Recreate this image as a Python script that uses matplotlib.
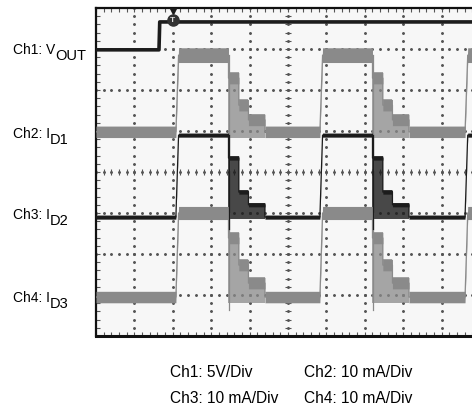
import numpy as np
import matplotlib
matplotlib.use('Agg')
import matplotlib.pyplot as plt
from matplotlib.ticker import MultipleLocator

plt.rcParams['font.family'] = ['Liberation Sans', 'DejaVu Sans']

# scope screen, everything in divisions (10 x 8)
n_xdiv = 10
n_ydiv = 8

# Ch1: VOUT, a single step up
vout_t = [0.0, 1.64, 1.66, 10.5]
vout_y = [6.98, 6.98, 7.66, 7.66]

# LED current pulses (same timing on the three channels)
pulse_rise = [2.08, 5.83, 9.61]
pulse_width = 1.37
rise_time = 0.07
tail_ends = [0.27, 0.52, 0.95]   # end of each tail step after the falling edge

# levels: off, on, tail step 1, 2, 3
id1_lvl = [4.98, 6.85, 6.29, 5.63, 5.27]
id2_lvl = [2.90, 4.90, 4.34, 3.51, 3.20]
id3_lvl = [0.95, 3.00, 2.39, 1.73, 1.29]

# ringing at the falling edge: lowest level reached
id1_spike = 4.05
id2_spike = 2.60
id3_spike = 0.64

ch_names = ['Ch1: V', 'Ch2: I', 'Ch3: I', 'Ch4: I']
ch_subs = ['OUT', 'D1', 'D2', 'D3']
scale_txt = [['Ch1: 5V/Div', 'Ch2: 10 mA/Div'],
             ['Ch3: 10 mA/Div', 'Ch4: 10 mA/Div']]

dark = '#1c1c1c'
grey = '#8a8a8a'
grid_c = '#555555'


def pulse_trace(lvl):
    off, on = lvl[0], lvl[1]
    t, y = [0.0], [off]
    for r in pulse_rise:
        f = r + pulse_width
        t += [r, r + rise_time, f]
        y += [off, on, on]
        start = f
        for end, v in zip(tail_ends, lvl[2:]):
            t += [start, f + end]
            y += [v, v]
            start = f + end
        t += [start]
        y += [off]
    return np.array(t), np.array(y)


def draw_channel(ax, lvl, spike, color, half, half_on, tail_alpha):
    t, y = pulse_trace(lvl)
    off = lvl[0]
    # ringing fills the tail steps down to the baseline
    for r in pulse_rise:
        f = r + pulse_width
        start = f
        for end, v in zip(tail_ends, lvl[2:]):
            ax.fill_between([start, f + end], off - half, v + half,
                            color=color, alpha=tail_alpha, lw=0, zorder=3)
            start = f + end
        ax.plot([f + 0.02, f + 0.02], [lvl[1], spike], color=color, lw=0.9, zorder=4)
    h = np.where(y == lvl[1], half_on, half)
    ax.fill_between(t, y - h, y + h, color=color, lw=0, zorder=4)
    ax.plot(t, y, color=color, lw=0.9, zorder=4)


fig = plt.figure(figsize=(4.72, 4.08), dpi=100)
ax = fig.add_axes([96 / 472, 72 / 408, 384 / 472, 328 / 408])
ax.set_facecolor('#f7f7f7')
ax.set_xlim(0, n_xdiv)
ax.set_ylim(0, n_ydiv)

# graticule
fx = np.arange(0, n_xdiv + 0.001, 0.2)
fy = np.arange(0, n_ydiv + 0.001, 0.2)
for gx in range(1, n_xdiv):
    ax.plot([gx] * len(fy), fy, ls='none', marker='o', ms=1.1, color=grid_c, zorder=1)
for gy in range(1, n_ydiv):
    ax.plot(fx, [gy] * len(fx), ls='none', marker='o', ms=1.1, color=grid_c, zorder=1)
ax.plot([n_xdiv / 2] * len(fy), fy, ls='none', marker='_', ms=5, mew=0.8, color=grid_c, zorder=1)
ax.plot(fx, [n_ydiv / 2] * len(fx), ls='none', marker='|', ms=5, mew=0.8, color=grid_c, zorder=1)

ax.xaxis.set_major_locator(MultipleLocator(1))
ax.yaxis.set_major_locator(MultipleLocator(1))
ax.xaxis.set_minor_locator(MultipleLocator(0.2))
ax.yaxis.set_minor_locator(MultipleLocator(0.2))
ax.tick_params(which='both', direction='in', top=True, right=True, length=3,
               width=0.8, color=grid_c, labelbottom=False, labelleft=False)
for s in ax.spines.values():
    s.set_linewidth(1.6)
    s.set_color('#111111')
ax.spines['bottom'].set_linewidth(2.2)

# traces
draw_channel(ax, id1_lvl, id1_spike, grey, 0.14, 0.18, 0.75)
draw_channel(ax, id3_lvl, id3_spike, grey, 0.14, 0.16, 0.75)
draw_channel(ax, id2_lvl, id2_spike, dark, 0.05, 0.05, 0.8)
ax.plot(vout_t, vout_y, color=dark, lw=2.6, zorder=5)

# trigger marker
ax.plot(2.0, 7.93, marker='v', ms=5, color=dark, zorder=6, clip_on=False)
ax.plot(2.0, 7.7, marker='o', ms=8, color='#333333', zorder=6)
ax.text(2.0, 7.69, 'T', color='#dddddd', fontsize=6, fontweight='bold',
        ha='center', va='center', zorder=7)

# channel labels on the left
label_base = [54, 138, 219, 302]
for name, sub, yb in zip(ch_names, ch_subs, label_base):
    main = fig.text(13 / 472, 1 - yb / 408, name, fontsize=10, ha='left', va='baseline')
    fig.canvas.draw()
    ax.annotate(sub, xy=(1, 0), xycoords=main, xytext=(0, -4), textcoords='offset points',
                fontsize=10.5, ha='left', va='bottom', annotation_clip=False)

# volts/div legend under the screen
col_x = [170, 304]
row_y = [377, 403]
for row, yb in zip(scale_txt, row_y):
    for txt, xl in zip(row, col_x):
        fig.text(xl / 472, 1 - yb / 408, txt, fontsize=11.2, ha='left', va='baseline')

fig.savefig('out.png', dpi=100)
